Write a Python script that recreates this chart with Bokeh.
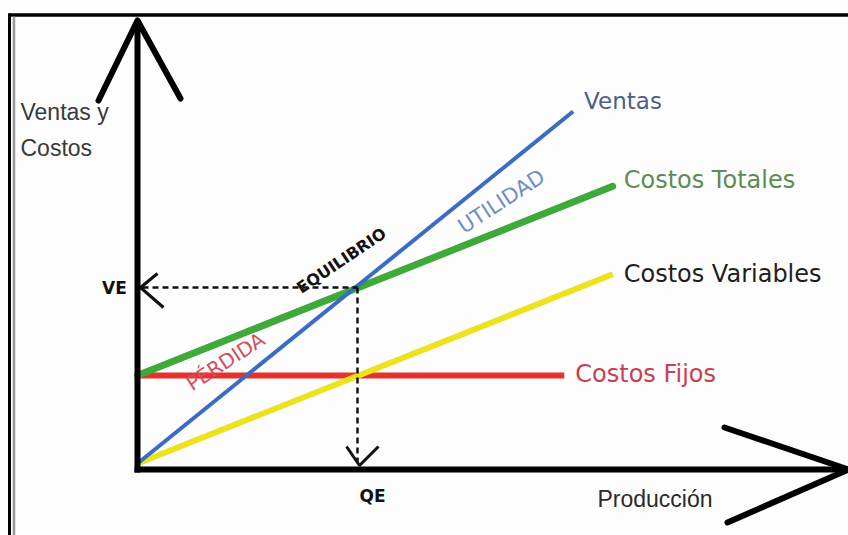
from bokeh.plotting import figure
from bokeh.models import Range1d
from bokeh.core.properties import value
from bokeh.embed import file_html
from bokeh.resources import INLINE

# --- break-even data (production units, money units) ---
q_ventas = [0, 99]
ventas = [0, 160]

q_totales = [0, 108]
costos_totales = [40, 126]

q_variables = [0, 108]
costos_variables = [0, 86]

q_fijos = [0, 97]
costos_fijos = [40, 40]

qe = 50   # break-even quantity
ve = 80   # break-even sales

series_names = ["Ventas", "Costos Totales", "Costos Variables", "Costos Fijos"]

W, H = 848, 535
# screen scale: 4.4 px per production unit, 2.2 px per money unit
XS, YS = 4.4, 2.2
OX, OY = 137, 463  # origin in pixels

p = figure(width=W, height=H, output_backend="svg", toolbar_location=None,
           x_range=Range1d(-OX / XS, (W - OX) / XS),
           y_range=Range1d(-(H - OY) / YS, OY / YS),
           min_border=0, outline_line_color=None, background_fill_color="#fdfdfd",
           border_fill_color="#fdfdfd")
p.axis.visible = False
p.grid.visible = False


def px(x):
    return (x - OX) / XS


def py(y):
    return (OY - y) / YS


SANS = value("Liberation Sans")
ROUND = value("DejaVu Sans")

# outer frame (top and left edges)
p.line([px(8), px(848)], [py(14.5), py(14.5)], line_color="black", line_width=3.5)
p.line([px(9), px(9)], [py(13), py(535)], line_color="black", line_width=3)
p.line([px(13.5), px(13.5)], [py(16), py(535)], line_color="#9a9a9a", line_width=2.5)

# series lines
p.line(q_fijos, costos_fijos, line_color="#e8302c", line_width=6)
p.line(q_variables, costos_variables, line_color="#ece21e", line_width=6)
p.line(q_totales, costos_totales, line_color="#3fa93a", line_width=7, line_cap="round")
p.line(q_ventas, ventas, line_color="#3b6cc4", line_width=4)

# dashed guides to the break-even point
p.line([px(142), qe], [ve, ve], line_color="#111111", line_width=2.5, line_dash="6 4")
p.line([qe, qe], [ve, py(462)], line_color="#111111", line_width=2.5, line_dash="6 4")
p.line([px(157), px(140), px(163)], [py(273), py(287), py(307)],
       line_color="#111111", line_width=3)
p.line([px(346), px(359), px(378)], [py(446), py(465), py(446)],
       line_color="#111111", line_width=3)

# hand-drawn axes with arrow heads
p.line([0, 0], [py(472), py(20)], line_color="black", line_width=6)
p.line([px(98), 0, px(180)], [py(100), py(20), py(98)], line_color="black",
       line_width=6, line_join="round", line_cap="round")
p.line([px(134), px(848)], [py(469), py(469)], line_color="black", line_width=6)
p.line([px(724), px(848), px(727)], [py(427), py(469), py(522)], line_color="black",
       line_width=6, line_join="round", line_cap="round")

# axis titles
p.text(x=[px(20), px(20)], y=[py(111), py(147)], text=["Ventas y", "Costos"],
       text_font_size="23px", text_font=SANS, text_color="#3a3a3a",
       text_baseline="middle", text_align="left")
p.text(x=[px(597)], y=[py(498)], text=["Producción"],
       text_font_size="23px", text_font=SANS, text_color="#2a2a2a",
       text_baseline="middle", text_align="left")
p.text(x=[px(114), qe + 3.4], y=[ve, py(495)], text=["VE", "QE"],
       text_font_size="17px", text_font=ROUND, text_font_style="bold",
       text_color="#111111", text_baseline="middle", text_align="center")

# series labels next to the line ends
label_x = [q_ventas[-1], q_totales[-1], q_variables[-1], q_fijos[-1]]
label_y = [ventas[-1], costos_totales[-1], costos_variables[-1], costos_fijos[-1]]
label_colors = ["#4d5f88", "#5e8c52", "#1e1e1e", "#c8404f"]
label_dy = [-11, -6, 0, -2]
label_size = ["23px", "24px", "24px", "24px"]
for name, lx, ly, c, dy, fs in zip(series_names, label_x, label_y, label_colors,
                                   label_dy, label_size):
    p.text(x=[lx], y=[ly], text=[name], x_offset=11, y_offset=dy,
           text_font_size=fs, text_font=ROUND, text_color=c,
           text_baseline="middle", text_align="left")

# region annotations along the lines
p.text(x=[px(341)], y=[py(260)], text=["EQUILIBRIO"], angle=34, angle_units="deg",
       text_font_size="16px", text_font=ROUND, text_font_style="bold",
       text_color="#111111", text_baseline="middle", text_align="center")
p.text(x=[px(501)], y=[py(201)], text=["UTILIDAD"], angle=33, angle_units="deg",
       text_font_size="21px", text_font=ROUND, text_color="#6f8fc4",
       text_baseline="middle", text_align="center")
p.text(x=[px(225)], y=[py(361)], text=["PÉRDIDA"], angle=33, angle_units="deg",
       text_font_size="20px", text_font=ROUND, text_color="#d24f5e",
       text_baseline="middle", text_align="center")

open("out.html", "w").write(file_html(p, INLINE))
